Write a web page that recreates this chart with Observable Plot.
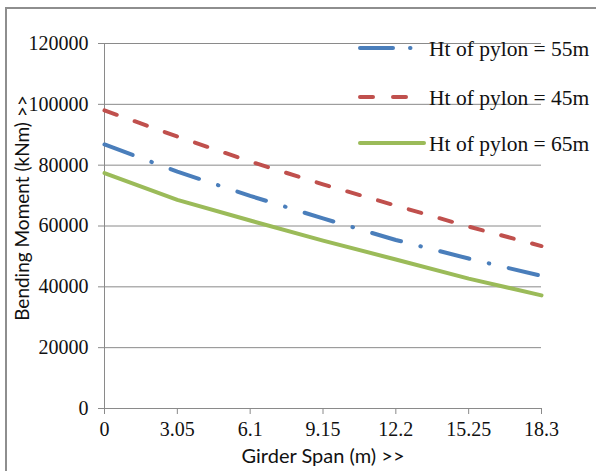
<!DOCTYPE html>
<html>
<head>
<meta charset="utf-8">
<script src="https://cdn.jsdelivr.net/npm/d3@7"></script>
<script src="https://cdn.jsdelivr.net/npm/@observablehq/plot@0.6"></script>
<style>
  html, body { margin: 0; padding: 0; background: #fff; overflow: hidden; }
  #wrap { position: relative; width: 596px; height: 471px; overflow: hidden; background: #fff; }
  #border { position: absolute; left: 5px; top: 7px; width: 700px; height: 600px; border: 2px solid #8e8e8e; box-sizing: border-box; }
  #chart { position: absolute; left: 0; top: 0; }
  #legend { position: absolute; left: 0; top: 0; }
</style>
</head>
<body>
<div id="wrap">
  <div id="border"></div>
  <div id="chart"></div>
  <svg id="legend" width="596" height="471"></svg>
</div>
<script>
const spans = [0, 3.05, 6.1, 9.15, 12.2, 15.25, 18.3];
const xTickLabels = ["0", "3.05", "6.1", "9.15", "12.2", "15.25", "18.3"];
const yTicks = [0, 20000, 40000, 60000, 80000, 100000, 120000];
const seriesNames = ["Ht of pylon = 55m", "Ht of pylon = 45m", "Ht of pylon = 65m"];
const pylon55 = [86800, 77900, 69900, 62500, 55400, 49300, 43600];
const pylon45 = [98000, 89400, 81200, 73700, 66700, 59800, 53400];
const pylon65 = [77400, 68600, 61800, 55200, 49000, 42700, 37200];
const xTitle = "Girder Span (m) >>";
const yTitle = "Bending Moment (kNm) >>";

const colors = {"Ht of pylon = 55m": "#4a7ebb", "Ht of pylon = 45m": "#c0504d", "Ht of pylon = 65m": "#9bbb59"};
const dashes = {"Ht of pylon = 55m": "30,20,0.5,20", "Ht of pylon = 45m": "13,19", "Ht of pylon = 65m": null};

const valuesBySeries = [pylon55, pylon45, pylon65];
const rows = [];
seriesNames.forEach((s, i) => spans.forEach((x, j) => rows.push({series: s, span: x, moment: valuesBySeries[i][j]})));

const serif = "'Liberation Serif', 'Times New Roman', serif";
const sans = "Lato, 'Open Sans', sans-serif";
const gridColor = "#8a8a8a";

const lineMarks = seriesNames.map(s => Plot.line(rows.filter(r => r.series === s), {
  x: "span", y: "moment",
  stroke: colors[s], strokeWidth: 4,
  strokeLinecap: "round",
  strokeDasharray: dashes[s] || undefined
}));

const plot = Plot.plot({
  width: 596, height: 471,
  marginLeft: 104, marginRight: 55, marginTop: 43, marginBottom: 63,
  style: {background: "transparent", fontFamily: serif},
  x: {domain: [0, 18.3]},
  y: {domain: [0, 120000]},
  marks: [
    Plot.gridY(yTicks, {stroke: gridColor, strokeOpacity: 1, strokeWidth: 1}),
    Plot.ruleX([0], {stroke: gridColor, strokeWidth: 1}),
    Plot.axisY(yTicks, {tickSize: 6, tickPadding: 10, stroke: gridColor, tickFormat: d => String(d), fontSize: 20, fontFamily: serif, fill: "#111", label: null}),
    Plot.axisX(spans, {tickSize: 6, tickPadding: 7, stroke: gridColor, tickFormat: (d, i) => xTickLabels[i], fontSize: 20, fontFamily: serif, fill: "#111", label: null}),
    Plot.ruleY([0], {stroke: gridColor, strokeWidth: 1}),
    ...lineMarks,
    Plot.text([yTitle], {frameAnchor: "left", text: d => d, rotate: -90, textAnchor: "middle", dx: -82, dy: -18, fontSize: 19, fontFamily: sans, fill: "#111"}),
    Plot.text([xTitle], {frameAnchor: "bottom", text: d => d, dy: 54, fontSize: 20, fontFamily: sans, fill: "#111"})
  ]
});
document.getElementById("chart").appendChild(plot);

// legend
const leg = d3.select("#legend");
const legY = [48, 97, 143];
seriesNames.forEach((s, i) => {
  leg.append("line")
    .attr("x1", 360).attr("x2", 424).attr("y1", legY[i]).attr("y2", legY[i])
    .attr("stroke", colors[s]).attr("stroke-width", 4).attr("stroke-linecap", "round")
    .attr("stroke-dasharray", s === seriesNames[0] ? "33,17,0.5,20" : (s === seriesNames[1] ? "13,20" : null));
  leg.append("text")
    .attr("x", 429).attr("y", legY[i]).attr("dy", "0.35em")
    .attr("font-family", serif).attr("font-size", 21.5).attr("fill", "#111")
    .text(s);
});
</script>
</body>
</html>
